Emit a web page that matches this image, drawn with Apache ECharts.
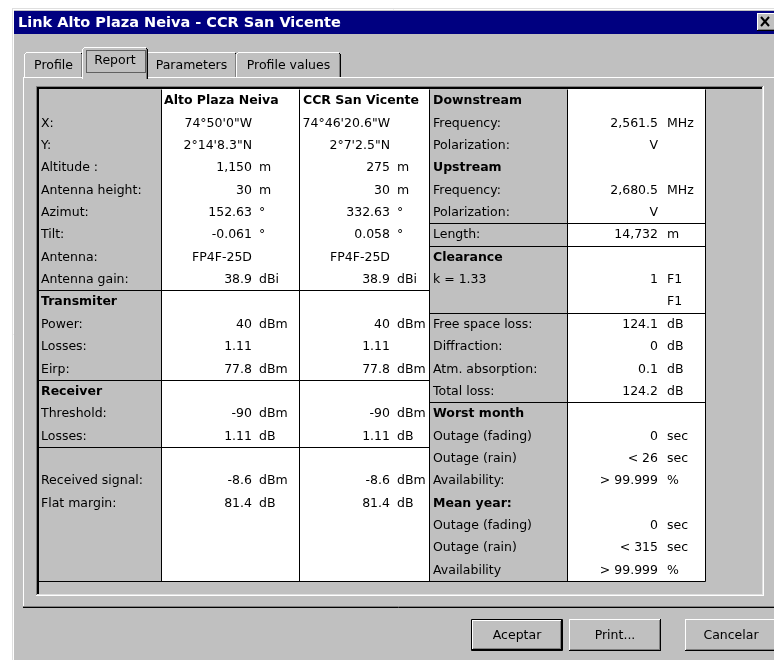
<!DOCTYPE html>
<html>
<head>
<meta charset="utf-8">
<script src="https://cdn.jsdelivr.net/npm/echarts@6/dist/echarts.min.js"></script>
<style>
  html, body { margin: 0; padding: 0; background: #fff; }
  #report { width: 774px; height: 660px; }
</style>
</head>
<body>
<div id="report"></div>
<script>
/* Link report: Alto Plaza Neiva - CCR San Vicente */

const title = 'Link Alto Plaza Neiva - CCR San Vicente'
const tabs = ['Profile', 'Report', 'Parameters', 'Profile values']
const buttons = ['Aceptar', 'Print...', 'Cancelar']
const sites = ['Alto Plaza Neiva', 'CCR San Vicente']

// left block, rows 1..18
const siteLabels = ['X:', 'Y:', 'Altitude :', 'Antenna height:', 'Azimut:', 'Tilt:', 'Antenna:', 'Antenna gain:',
  'Transmiter', 'Power:', 'Losses:', 'Eirp:', 'Receiver', 'Threshold:', 'Losses:', '', 'Received signal:', 'Flat margin:']
const siteA = ['74°50\'0"W', '2°14\'8.3"N', '1,150', '30', '152.63', '-0.061', 'FP4F-25D', '38.9',
  '', '40', '1.11', '77.8', '', '-90', '1.11', '', '-8.6', '81.4']
const siteB = ['74°46\'20.6"W', '2°7\'2.5"N', '275', '30', '332.63', '0.058', 'FP4F-25D', '38.9',
  '', '40', '1.11', '77.8', '', '-90', '1.11', '', '-8.6', '81.4']
const siteUnits = ['', '', 'm', 'm', '°', '°', '', 'dBi', '', 'dBm', '', 'dBm', '', 'dBm', 'dB', '', 'dBm', 'dB']

// right block, rows 0..21
const linkLabels = ['Downstream', 'Frequency:', 'Polarization:', 'Upstream', 'Frequency:', 'Polarization:', 'Length:',
  'Clearance', 'k = 1.33', '', 'Free space loss:', 'Diffraction:', 'Atm. absorption:', 'Total loss:',
  'Worst month', 'Outage (fading)', 'Outage (rain)', 'Availability:', 'Mean year:', 'Outage (fading)', 'Outage (rain)', 'Availability']
const linkValues = ['', '2,561.5', 'V', '', '2,680.5', 'V', '14,732', '', '1', '', '124.1', '0', '0.1', '124.2',
  '', '0', '< 26', '> 99.999', '', '0', '< 315', '> 99.999']
const linkUnits = ['', 'MHz', '', '', 'MHz', '', 'm', '', 'F1', 'F1', 'dB', 'dB', 'dB', 'dB',
  '', 'sec', 'sec', '%', '', 'sec', 'sec', '%']

const headings = ['Transmiter', 'Receiver', 'Downstream', 'Upstream', 'Clearance', 'Worst month', 'Mean year:']

// table layout
const ROWS = 22
const colEdges = [0, 123, 261, 391, 529, 667]
const whiteCols = [1, 2, 4]
const siteRules = [9, 13, 16]
const linkRules = [6, 7, 10, 14]

const FONT = '12.5px "DejaVu Sans"'
const BOLD = 'bold 12.5px "DejaVu Sans"'
const GRAY = '#c0c0c0', DARK = '#808080', LIGHT = '#dfdfdf'

// ---- chrome helpers (window, tabs, buttons) ----
const hline = (x1, x2, y, c, z) => ({type: 'line', z: z || 1, silent: true, shape: {x1: x1, y1: y + 0.5, x2: x2, y2: y + 0.5}, style: {stroke: c, lineWidth: 1}})
const vline = (x, y1, y2, c, z) => ({type: 'line', z: z || 1, silent: true, shape: {x1: x + 0.5, y1: y1, x2: x + 0.5, y2: y2}, style: {stroke: c, lineWidth: 1}})
const box = (x, y, w, h, c, z) => ({type: 'rect', z: z || 0, silent: true, shape: {x: x, y: y, width: w, height: h}, style: {fill: c}})
const label = (t, x, y, font, c, align, z) => ({type: 'text', z: z || 2, silent: true, x: x, y: y,
  style: {text: t, font: font, fill: c, align: align, textAlign: align, verticalAlign: 'middle', textVerticalAlign: 'middle'}})

const raised = (x, y, w, h, z) => [
  box(x, y, w, h, GRAY, z),
  hline(x, x + w - 1, y, '#fff', z), vline(x, y, y + h - 1, '#fff', z),
  hline(x + 1, x + w - 1, y + h - 2, DARK, z), vline(x + w - 2, y + 1, y + h - 1, DARK, z),
  hline(x, x + w, y + h - 1, '#000', z), vline(x + w - 1, y, y + h, '#000', z)
]

const tab = (x0, x1, top, text, active) => {
  const z = active ? 6 : 3
  const bottom = active ? 79 : 77
  return [
    box(x0, top, x1 - x0, bottom - top, GRAY, z),
    vline(x0, top + 2, bottom, '#fff', z), hline(x0 + 2, x1 - 2, top, '#fff', z), box(x0 + 1, top + 1, 1, 1, '#fff', z),
    vline(x1 - 2, top + 1, bottom, DARK, z), vline(x1 - 1, top + 2, bottom, '#000', z), box(x1 - 2, top + 1, 1, 1, '#000', z),
    label(text, (x0 + x1) / 2, top + 14, FONT, '#000', 'center', z + 1)
  ]
}

const button = (x, y, w, h, text, isDefault) => {
  const els = []
  if (isDefault) {
    els.push({type: 'rect', z: 4, silent: true, shape: {x: x + 0.5, y: y + 0.5, width: w - 1, height: h - 1}, style: {fill: GRAY, stroke: '#000', lineWidth: 1}})
    els.push(...raised(x + 1, y + 1, w - 2, h - 2, 5))
  } else {
    els.push(...raised(x, y, w, h, 5))
  }
  els.push(label(text, x + w / 2, y + h / 2 + 1, FONT, '#000', 'center', 7))
  return els
}

const chrome = [
  box(0, 0, 774, 660, '#fff', -1),
  box(12, 8, 762, 652, GRAY, -1),
  hline(12, 774, 8, LIGHT), vline(12, 8, 660, LIGHT),
  hline(13, 774, 9, '#fff'), vline(13, 9, 660, '#fff'),
  // title bar
  box(14, 11, 760, 23, '#000080', 1),
  label(title, 18, 23, 'bold 14.5px "DejaVu Sans"', '#fff', 'left', 2),
  ...raised(757, 13, 19, 18, 3),
  {type: 'line', z: 4, silent: true, shape: {x1: 761, y1: 17, x2: 769, y2: 26}, style: {stroke: '#000', lineWidth: 2}},
  {type: 'line', z: 4, silent: true, shape: {x1: 769, y1: 17, x2: 761, y2: 26}, style: {stroke: '#000', lineWidth: 2}},
  // tabs + panel
  ...tab(24, 83, 52, tabs[0], false),
  ...tab(146, 237, 52, tabs[2], false),
  ...tab(236, 341, 52, tabs[3], false),
  hline(23, 82, 77, '#fff', 4), hline(148, 774, 77, '#fff', 4), vline(23, 77, 607, '#fff', 4),
  hline(23, 774, 606, DARK, 4), hline(23, 774, 607, '#000', 4),
  ...tab(82, 148, 47, tabs[1], true),
  {type: 'rect', z: 8, silent: true, shape: {x: 86.5, y: 50.5, width: 59, height: 22}, style: {fill: null, stroke: '#000', lineWidth: 1, lineDash: [1, 1]}},
  // sunken frame round the report grid
  hline(36, 764, 86, DARK, 10), vline(36, 86, 596, DARK, 10),
  box(37, 87, 726, 2, '#000', 10), box(37, 87, 2, 508, '#000', 10),
  hline(37, 763, 594, LIGHT, 10), vline(762, 87, 595, LIGHT, 10),
  hline(36, 764, 595, '#fff', 10), vline(763, 86, 596, '#fff', 10),
  // buttons
  ...button(471, 619, 92, 32, buttons[0], true),
  ...button(569, 619, 92, 32, buttons[1], false),
  ...button(685, 619, 92, 32, buttons[2], false)
]

// ---- table series ----
const textSeries = (texts, x, rowStart, align, boldAll) => ({
  type: 'custom',
  coordinateSystem: 'cartesian2d',
  silent: true,
  clip: false,
  z: 5,
  data: texts.map((t, i) => [x, rowStart + i]),
  renderItem: (params, api) => {
    const p = api.coord([api.value(0), api.value(1) + 0.5])
    const t = texts[params.dataIndex]
    const bold = boldAll || headings.indexOf(t) >= 0
    return {
      type: 'text',
      x: Math.round(p[0]),
      y: Math.round(p[1]) + 1,
      style: {text: t, font: bold ? BOLD : FONT, fill: '#000', align: align, textAlign: align, verticalAlign: 'middle', textVerticalAlign: 'middle'}
    }
  }
})

const cellData = whiteCols.map(c => [colEdges[c], 0, colEdges[c + 1], ROWS])
const ruleData = []
siteRules.forEach(r => ruleData.push([colEdges[0], r, colEdges[3], r]))
linkRules.forEach(r => ruleData.push([colEdges[3], r, colEdges[5], r]))
ruleData.push([colEdges[0], ROWS, colEdges[5], ROWS])
colEdges.slice(1).forEach(x => ruleData.push([x, 0, x, ROWS]))

const option = {
  animation: false,
  backgroundColor: '#fff',
  graphic: {elements: chrome},
  grid: {left: 38, top: 89, width: 667, height: 492},
  xAxis: {type: 'value', min: 0, max: colEdges[5], show: false},
  yAxis: {type: 'value', min: 0, max: ROWS, inverse: true, show: false},
  series: [
    {
      type: 'custom',
      coordinateSystem: 'cartesian2d',
      silent: true,
      z: 3,
      data: cellData,
      renderItem: (params, api) => {
        const a = api.coord([api.value(0), api.value(1)])
        const b = api.coord([api.value(2), api.value(3)])
        return {type: 'rect', shape: {x: a[0], y: a[1], width: b[0] - a[0], height: b[1] - a[1]}, style: {fill: '#fff'}}
      }
    },
    {
      type: 'custom',
      coordinateSystem: 'cartesian2d',
      silent: true,
      clip: false,
      z: 4,
      data: ruleData,
      renderItem: (params, api) => {
        const a = api.coord([api.value(0), api.value(1)])
        const b = api.coord([api.value(2), api.value(3)])
        return {
          type: 'line',
          shape: {x1: Math.round(a[0]) + 0.5, y1: Math.round(a[1]) + 0.5, x2: Math.round(b[0]) + 0.5, y2: Math.round(b[1]) + 0.5},
          style: {stroke: '#000', lineWidth: 1}
        }
      }
    },
    textSeries([sites[0]], colEdges[1] + 3, 0, 'left', true),
    textSeries([sites[1]], colEdges[2] + 4, 0, 'left', true),
    textSeries(siteLabels, colEdges[0] + 3, 1, 'left', false),
    textSeries(siteA, colEdges[1] + 91, 1, 'right', false),
    textSeries(siteUnits, colEdges[1] + 98, 1, 'left', false),
    textSeries(siteB, colEdges[2] + 91, 1, 'right', false),
    textSeries(siteUnits, colEdges[2] + 98, 1, 'left', false),
    textSeries(linkLabels, colEdges[3] + 4, 0, 'left', false),
    textSeries(linkValues, colEdges[4] + 91, 0, 'right', false),
    textSeries(linkUnits, colEdges[4] + 100, 0, 'left', false)
  ]
}

const chart = echarts.init(document.getElementById('report'))
chart.setOption(option)
</script>
</body>
</html>
